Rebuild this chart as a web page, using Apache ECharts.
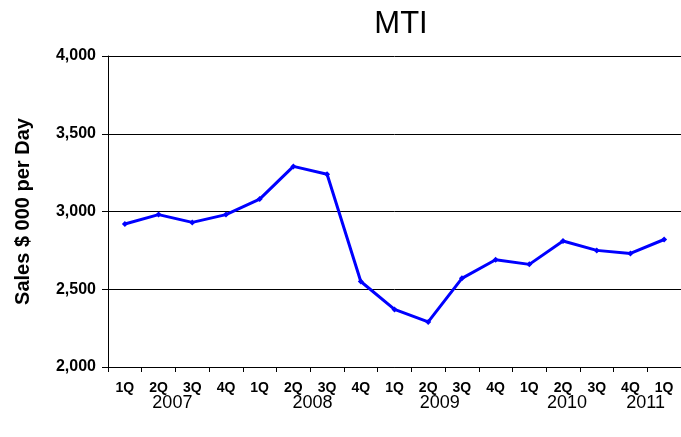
<!DOCTYPE html>
<html>
<head>
<meta charset="utf-8">
<script src="https://cdn.jsdelivr.net/npm/echarts@6/dist/echarts.min.js"></script>
<style>
  html, body { margin: 0; padding: 0; background: #fff; }
  #chart { width: 681px; height: 437px; }
</style>
</head>
<body>
<div id="chart"></div>
<script>
// quarters along the x axis
const quarters = ['1Q', '2Q', '3Q', '4Q', '1Q', '2Q', '3Q', '4Q', '1Q', '2Q', '3Q', '4Q', '1Q', '2Q', '3Q', '4Q', '1Q']
// sales, $000 per day
const sales = [2920, 2980, 2930, 2980, 3080, 3290, 3240, 2550, 2370, 2290, 2570, 2690, 2660, 2810, 2750, 2730, 2820]
// year labels and where they sit (in quarter units from the left edge)
const years = ['2007', '2008', '2009', '2010', '2011']
const yearPos = [1.91, 6.07, 9.84, 13.62, 15.95]

const myChart = echarts.init(document.getElementById('chart'))
const font = 'Arial, "Liberation Sans", sans-serif'

const option = {
  animation: false,
  title: {
    text: 'MTI',
    left: 396,
    top: 4,
    textAlign: 'center',
    textStyle: { fontFamily: font, fontSize: 31, fontWeight: 'normal', color: '#000' }
  },
  grid: { left: 108, top: 56, width: 576, height: 311 },
  xAxis: [
    {
      type: 'category',
      data: quarters,
      boundaryGap: true,
      axisLine: { lineStyle: { color: '#000', width: 1 } },
      axisTick: { show: true, length: 5, lineStyle: { color: '#000' } },
      axisLabel: { fontFamily: font, fontSize: 14, fontWeight: 'bold', color: '#000', margin: 14 }
    },
    {
      // helper axis for the year labels
      type: 'value',
      min: 0,
      max: 17,
      position: 'bottom',
      show: false
    }
  ],
  yAxis: {
    type: 'value',
    min: 2000,
    max: 4000,
    interval: 500,
    name: 'Sales $ 000 per Day',
    nameLocation: 'middle',
    nameGap: 75,
    nameTextStyle: { fontFamily: font, fontSize: 20, fontWeight: 'bold', color: '#000' },
    axisLine: { show: true, lineStyle: { color: '#000', width: 1 } },
    axisTick: { show: true, length: 6, lineStyle: { color: '#000' } },
    splitLine: { show: true, lineStyle: { color: '#000', width: 1 } },
    axisLabel: {
      fontFamily: font, fontSize: 16, fontWeight: 'bold', color: '#000', margin: 12,
      formatter: v => v.toLocaleString('en-US')
    }
  },
  series: [
    {
      name: 'MTI',
      type: 'line',
      data: sales,
      symbol: 'diamond',
      symbolSize: 6,
      lineStyle: { color: '#0000FF', width: 3 },
      itemStyle: { color: '#0000FF' }
    },
    {
      name: 'years',
      type: 'scatter',
      xAxisIndex: 1,
      symbolSize: 0,
      clip: false,
      silent: true,
      itemStyle: { opacity: 1, color: '#000' },
      data: yearPos.map((p, i) => ({ value: [p, 2000], name: years[i] })),
      label: {
        show: true,
        position: 'bottom',
        distance: 27,
        formatter: p => p.name,
        fontFamily: font,
        fontSize: 18,
        color: '#000',
        opacity: 1
      }
    }
  ]
}

myChart.setOption(option)
</script>
</body>
</html>
